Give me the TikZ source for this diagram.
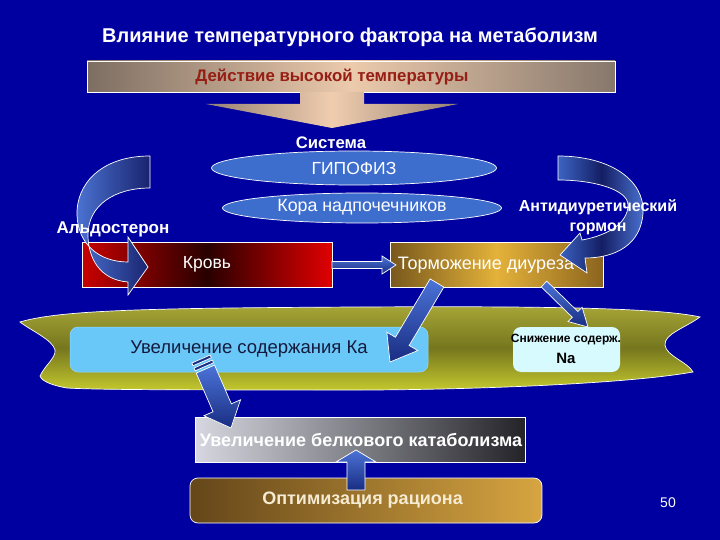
\documentclass[tikz,border=0pt]{standalone}
\usepackage{fontspec}
\setmainfont{Liberation Sans}
\usetikzlibrary{calc,shapes.geometric}
\definecolor{bg}{RGB}{0,0,160}
\definecolor{ellblue}{RGB}{62,110,205}
\definecolor{arrA}{RGB}{75,115,215}
\definecolor{arrB}{RGB}{25,45,130}
\definecolor{darkred}{RGB}{150,30,20}
\definecolor{kablue}{RGB}{105,200,248}
\definecolor{nacyan}{RGB}{215,250,255}
\newcommand\fs[1]{\fontsize{#1}{#1}\selectfont}
% block arrow: #1 from, #2 to, #3 half shaft, #4 half head, #5 head length, #6 options
\newcommand\blkarrow[6]{%
  \path[#6] let \p1=(#1), \p2=(#2), \n1={atan2(\y2-\y1,\x2-\x1)}, \n2={veclen(\x2-\x1,\y2-\y1)} in
    [shift={(\p1)}, rotate=\n1]
    (0,-#3) -- ({\n2-#5},-#3) -- ({\n2-#5},-#4) -- (\n2,0) -- ({\n2-#5},#4) -- ({\n2-#5},#3) -- (0,#3) -- cycle;}
\tikzset{
  edge/.style={draw=white, line width=0.7pt},
  bluearrow/.style={edge, top color=arrA, bottom color=arrB},
  boxtext/.style={text=white, inner sep=0pt},
}
\begin{document}
\begin{tikzpicture}[x=1pt,y=-1pt]
\fill[bg] (0,0) rectangle (720,540);
\useasboundingbox (0,0) rectangle (720,540);

% title
\node[boxtext, font=\bfseries\fs{20}] (title) at (350,37) {Влияние температурного фактора на метаболизм};

% top bar
\node[edge, minimum width=528pt, minimum height=31pt, inner sep=0pt,
  left color={rgb,255:red,125;green,110;blue,98}, right color={rgb,255:red,135;green,120;blue,108},
  middle color={rgb,255:red,236;green,202;blue,172}] (hot) at (351,76.5) {};
\node[inner sep=0pt, text=darkred, font=\bfseries\fs{16.8}] (hotT) at (332,77) {Действие высокой температуры};
\coordinate (hotTail) at (332,92);
\coordinate (hotTip) at (332,128);
\blkarrow{hotTail}{hotTip}{32}{126}{24}{left color={rgb,255:red,150;green,130;blue,115}, right color={rgb,255:red,150;green,130;blue,115}, middle color={rgb,255:red,240;green,205;blue,175}}

% system
\node[boxtext, font=\bfseries\fs{16.7}] (sys) at (331,143) {Система};
\node[ellipse, edge, fill=ellblue, minimum width=285pt, minimum height=34pt, inner sep=0pt,
  text=white, font=\fs{17.5}] (gip) at (354,168) {ГИПОФИЗ};
\node[ellipse, edge, fill=ellblue, minimum width=279pt, minimum height=30pt, inner sep=0pt] (kora) at (362,208) {};
\node[boxtext, font=\fs{17.8}] (koraT) at (362,207) {Кора надпочечников};

% blood and diuresis boxes
\shade[edge, left color={rgb,255:red,200;green,0;blue,0}, right color={rgb,255:red,225;green,0;blue,0},
  middle color={rgb,255:red,40;green,0;blue,0}] (82,242) rectangle (332,287);
\node[boxtext, font=\fs{17.5}] (krov) at (207,264.5) {Кровь};
\coordinate (krovE) at (332,265);
\shade[edge, left color={rgb,255:red,120;green,88;blue,28}, right color={rgb,255:red,140;green,100;blue,30},
  middle color={rgb,255:red,228;green,178;blue,58}] (390,242) rectangle (603,287);
\node[boxtext, font=\fs{18}] (torm) at (486,265) {Торможение диуреза};
\coordinate (tormW) at (396,265);

% curved arrows
\path[edge, left color={rgb,255:red,75;green,115;blue,210}, right color={rgb,255:red,25;green,35;blue,110}]
  (150,156) .. controls (100,156) and (76,185) .. (77,215)
  .. controls (78,245) and (100,262) .. (128,262) -- (128,237) -- (148,267) -- (128,295) -- (128,282)
  .. controls (100,280) and (88,258) .. (88,235)
  .. controls (88,205) and (115,188) .. (150,188) -- cycle;
\path[edge, left color={rgb,255:red,60;green,100;blue,195}, right color={rgb,255:red,75;green,115;blue,210},
  middle color={rgb,255:red,20;green,30;blue,100}]
  (558,156) .. controls (610,156) and (645,180) .. (643,213)
  .. controls (641,245) and (615,258) .. (585,258) -- (587,273) -- (560,255) -- (580,233) -- (582,240)
  .. controls (610,235) and (628,222) .. (628,205)
  .. controls (628,190) and (595,180) .. (558,180) -- cycle;
\node[boxtext, font=\bfseries\fs{17}] (aldo) at (113,229) {Альдостерон};
\node[boxtext, font=\bfseries\fs{16}, align=center] (adg) at (598,217) {Антидиуретический\\[4pt]гормон};

\blkarrow{krovE}{tormW}{3.5}{9}{14}{bluearrow}

% olive ribbon
\path[edge, top color={rgb,255:red,165;green,165;blue,55}, bottom color={rgb,255:red,195;green,200;blue,45},
  middle color={rgb,255:red,118;green,118;blue,30}]
  (20,322) .. controls (60,310) and (150,308) .. (360,307)
  .. controls (550,306) and (660,308) .. (700,317)
  .. controls (685,328) and (664,334) .. (665,345)
  .. controls (666,356) and (688,362) .. (693,372)
  .. controls (620,385) and (450,390) .. (360,390)
  .. controls (200,390) and (100,390) .. (67,388)
  .. controls (55,386) and (42,382) .. (40,376)
  .. controls (45,365) and (56,358) .. (55,350)
  .. controls (53,340) and (30,330) .. (20,322) -- cycle;

\node[draw=kablue!70!white, line width=0.5pt, fill=kablue, rounded corners=8pt, minimum width=358pt, minimum height=45pt,
  text={rgb,255:red,20;green,25;blue,60}, font=\fs{18.5}] (ka) at (249,349.5) {Увеличение содержания Ка};
\node[fill=nacyan, rounded corners=8pt, minimum width=107pt, minimum height=45pt] (na) at (566.5,349.5) {};
\node[inner sep=0pt, font=\bfseries\fs{12}] (naT1) at (566,340) {Снижение содерж.};
\node[inner sep=0pt, font=\bfseries\fs{15}] (naT2) at (566,358) {Na};

\coordinate (tormKaTail) at (437,283);
\coordinate (kaTip) at (390,362);
\blkarrow{tormKaTail}{kaTip}{8}{18}{24}{bluearrow}
\coordinate (tormNaTail) at (544,284);
\coordinate (naTip) at (588,327);
\blkarrow{tormNaTail}{naTip}{4}{10}{18}{bluearrow}

% protein catabolism & ration
\shade[edge, shading angle=70, left color={rgb,255:red,215;green,215;blue,225}, right color={rgb,255:red,35;green,35;blue,40}]
  (195,417) rectangle (525,462);
\node[boxtext, font=\bfseries\fs{18}] (prot) at (361,439.5) {Увеличение белкового катаболизма};
\shade[edge, rounded corners=8pt, left color={rgb,255:red,100;green,70;blue,25}, right color={rgb,255:red,215;green,165;blue,65}]
  (190,478) rectangle (542,523);
\node[inner sep=0pt, text={rgb,255:red,245;green,235;blue,210}, font=\bfseries\fs{18}] (opt) at (362.5,500.5) {Оптимизация рациона};
\coordinate (optN) at (356,490);
\coordinate (protS) at (356,450);
\blkarrow{optN}{protS}{9}{20}{12}{bluearrow}

% striped arrow Ka -> protein
\coordinate (kaS) at (201,359);
\coordinate (protTip) at (231,428);
\coordinate (kaS2) at ($(kaS)!11pt!(protTip)$);
\path[edge, fill=arrB] let \p1=(kaS), \p2=(protTip), \n1={atan2(\y2-\y1,\x2-\x1)} in
  [shift={(\p1)}, rotate=\n1] (0,-10) -- (3,-10) -- (3,10) -- (0,10) -- cycle
  (5.5,-10) -- (8.5,-10) -- (8.5,10) -- (5.5,10) -- cycle;
\blkarrow{kaS2}{protTip}{10}{20}{22}{bluearrow}

\node[boxtext, font=\fs{14}] (page) at (668,503) {50};
\end{tikzpicture}
\end{document}
